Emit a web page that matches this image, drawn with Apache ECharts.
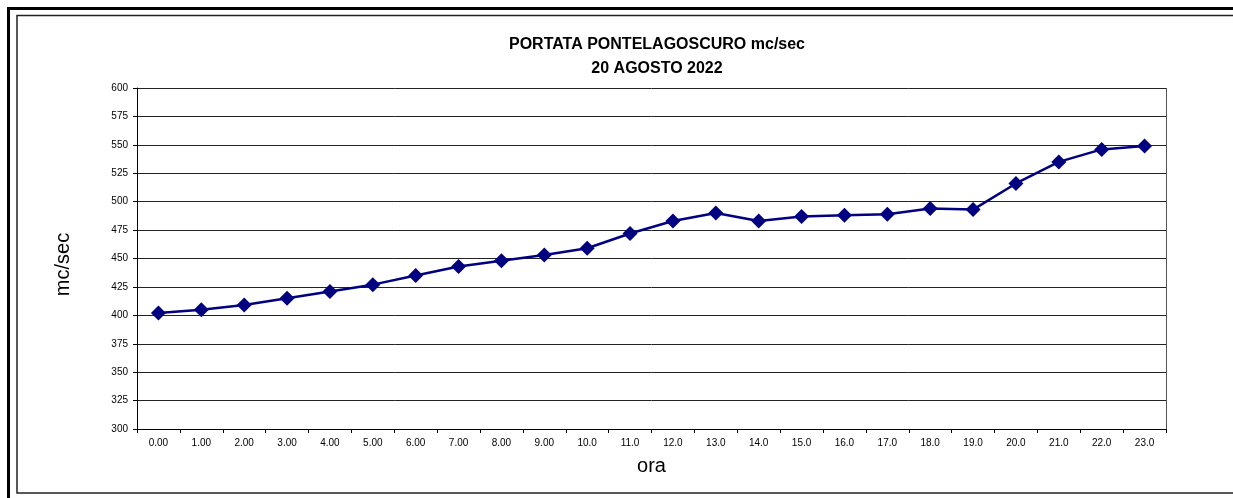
<!DOCTYPE html>
<html>
<head>
<meta charset="utf-8">
<script src="https://cdn.jsdelivr.net/npm/echarts@6/dist/echarts.min.js"></script>
<style>
html,body{margin:0;padding:0;background:#fff;}
#chart{width:1233px;height:498px;}
</style>
</head>
<body>
<div id="chart"></div>
<script>
const categories = ['0.00','1.00','2.00','3.00','4.00','5.00','6.00','7.00','8.00','9.00','10.0','11.0','12.0','13.0','14.0','15.0','16.0','17.0','18.0','19.0','20.0','21.0','22.0','23.0'];
const portata = [402, 405, 409, 415, 421, 427, 435, 443, 448, 453, 459, 472, 483, 490, 483, 487, 488, 489, 494, 493, 516, 535, 546, 549];
const titleLines = ['PORTATA PONTELAGOSCURO mc/sec', '20 AGOSTO 2022'];

const chart = echarts.init(document.getElementById('chart'), null, {renderer: 'canvas'});
const font = 'Liberation Sans, Arial, sans-serif';
chart.setOption({
  animation: false,
  backgroundColor: '#fff',
  title: {
    text: titleLines.join('\n'),
    left: 652, top: 28, textAlign: 'center',
    textStyle: {fontFamily: font, fontWeight: 'bold', fontSize: 16, color: '#000', lineHeight: 24}
  },
  graphic: [
    {type: 'rect', shape: {x: 8.5, y: 8.5, width: 1240, height: 500}, style: {fill: null, stroke: '#000', lineWidth: 3}, silent: true, z: 100},
    {type: 'rect', shape: {x: 17, y: 15.5, width: 1230, height: 477.5}, style: {fill: null, stroke: '#222', lineWidth: 1.5}, silent: true, z: 100},
    {type: 'line', shape: {x1: 1166.5, y1: 88, x2: 1166.5, y2: 429}, style: {stroke: '#555', lineWidth: 1}, silent: true, z: 100}
  ],
  grid: {left: 137, right: 67, top: 88, bottom: 69, containLabel: false},
  xAxis: {
    type: 'category', data: categories, boundaryGap: true,
    name: 'ora', nameLocation: 'middle', nameGap: 27,
    nameTextStyle: {fontFamily: font, fontSize: 20, color: '#000'},
    axisLine: {lineStyle: {color: '#000', width: 1}},
    axisTick: {show: true, inside: false, length: 4, lineStyle: {color: '#000'}},
    axisLabel: {fontFamily: font, fontSize: 10, color: '#000', margin: 9, interval: 0},
    splitLine: {show: false}
  },
  yAxis: {
    type: 'value', min: 300, max: 600, interval: 25,
    name: 'mc/sec', nameLocation: 'middle', nameGap: 64, nameRotate: 90,
    nameTextStyle: {fontFamily: font, fontSize: 20, color: '#000', padding: [0, 12, 0, 0]},
    axisLine: {show: true, lineStyle: {color: '#000', width: 1}},
    axisTick: {show: true, inside: false, length: 4, lineStyle: {color: '#000'}},
    axisLabel: {fontFamily: font, fontSize: 10, color: '#000', margin: 9},
    splitLine: {show: true, lineStyle: {color: '#222', width: 1}}
  },
  series: [{
    type: 'line', data: portata,
    symbol: 'diamond', symbolSize: 15,
    lineStyle: {color: '#000080', width: 2.5},
    itemStyle: {color: '#000080'},
    z: 5
  }]
});
</script>
</body>
</html>
